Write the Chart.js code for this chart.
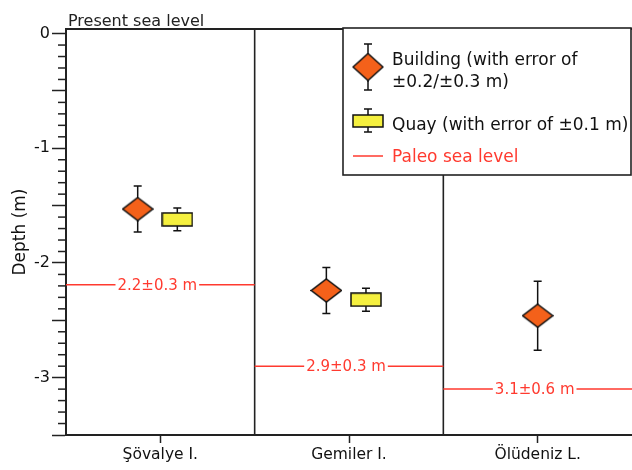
<!DOCTYPE html>
<html>
<head>
<meta charset="utf-8">
<script src="https://cdn.jsdelivr.net/npm/chart.js@4"></script>
<style>
  html, body { margin: 0; padding: 0; background: #fff; }
  #wrap { width: 632px; height: 470px; }
</style>
</head>
<body>
<div id="wrap"><canvas id="chart" width="632" height="470"></canvas></div>
<script>
// sites along the x axis
const categories = ["Şövalye I.", "Gemiler I.", "Ölüdeniz L."];
const catPos = [1, 2, 3];

// building remains (orange diamonds)
const buildingX = [0.88, 1.88, 3.0];
const buildingDepth = [-1.53, -2.24, -2.46];
const buildingErr = [0.2, 0.2, 0.3];

// quay remains (yellow boxes)
const quayX = [1.09, 2.09];
const quayDepth = [-1.62, -2.32];
const quayErr = [0.1, 0.1];

// paleo sea level per site
const paleoDepth = [-2.19, -2.9, -3.1];
const paleoLabels = ["2.2±0.3 m", "2.9±0.3 m", "3.1±0.6 m"];

// y axis major ticks
const yTicks = [0, -0.5, -1, -1.5, -2, -2.5, -3, -3.5];

const ORANGE = '#f4611a';
const YELLOW = '#f5f03f';
const RED = '#ff3a2f';
const INK = '#222';
const FONT = '"DejaVu Sans", Verdana, sans-serif';

// marker images
function diamondImg(w, h) {
  const c = document.createElement('canvas');
  c.width = w + 2; c.height = h + 2;
  const g = c.getContext('2d');
  g.beginPath();
  g.moveTo(c.width / 2, 1);
  g.lineTo(c.width - 1, c.height / 2);
  g.lineTo(c.width / 2, c.height - 1);
  g.lineTo(1, c.height / 2);
  g.closePath();
  g.fillStyle = ORANGE; g.fill();
  g.strokeStyle = '#111'; g.lineWidth = 1.5; g.stroke();
  return c;
}
function boxImg(w, h) {
  const c = document.createElement('canvas');
  c.width = w + 2; c.height = h + 2;
  const g = c.getContext('2d');
  g.fillStyle = YELLOW; g.fillRect(1, 1, w, h);
  g.strokeStyle = '#111'; g.lineWidth = 1.5; g.strokeRect(1, 1, w, h);
  return c;
}

const paleoData = [];
paleoDepth.forEach((d, i) => {
  paleoData.push({ x: catPos[i] - 0.5, y: d }, { x: catPos[i] + 0.5, y: d }, { x: catPos[i] + 0.5, y: null });
});

function errBar(ctx, px, y1, y2, cap) {
  ctx.beginPath();
  ctx.moveTo(px, y1); ctx.lineTo(px, y2);
  ctx.moveTo(px - cap, y1); ctx.lineTo(px + cap, y1);
  ctx.moveTo(px - cap, y2); ctx.lineTo(px + cap, y2);
  ctx.stroke();
}

const decor = {
  id: 'decor',
  beforeDatasetsDraw(chart) {
    const { ctx, chartArea: a, scales: { x, y } } = chart;
    ctx.save();
    ctx.strokeStyle = INK;
    // site separators
    ctx.lineWidth = 1.6;
    catPos.slice(1).forEach(v => {
      const px = x.getPixelForValue(v - 0.5);
      ctx.beginPath(); ctx.moveTo(px, a.top); ctx.lineTo(px, a.bottom); ctx.stroke();
    });
    // top border
    ctx.lineWidth = 2;
    ctx.beginPath(); ctx.moveTo(a.left, a.top); ctx.lineTo(a.right, a.top); ctx.stroke();
    // minor ticks every 0.1 m
    ctx.lineWidth = 1.5;
    for (let i = 0; i <= 35; i++) {
      if (i % 5 === 0) continue;
      const py = y.getPixelForValue(-i / 10);
      ctx.beginPath(); ctx.moveTo(a.left - 8, py); ctx.lineTo(a.left, py); ctx.stroke();
    }
    // error bars
    ctx.strokeStyle = '#111';
    ctx.lineWidth = 1.5;
    buildingX.forEach((bx, i) => {
      errBar(ctx, x.getPixelForValue(bx), y.getPixelForValue(buildingDepth[i] + buildingErr[i]),
        y.getPixelForValue(buildingDepth[i] - buildingErr[i]), 4);
    });
    quayX.forEach((qx, i) => {
      errBar(ctx, x.getPixelForValue(qx), y.getPixelForValue(quayDepth[i] + quayErr[i]),
        y.getPixelForValue(quayDepth[i] - quayErr[i]), 4);
    });
    ctx.restore();
  },
  afterDatasetsDraw(chart) {
    const { ctx, scales: { x, y } } = chart;
    ctx.save();
    ctx.font = '15px ' + FONT;
    ctx.textAlign = 'center';
    ctx.textBaseline = 'middle';
    paleoLabels.forEach((t, i) => {
      const cx = x.getPixelForValue(catPos[i]) - 3;
      const cy = y.getPixelForValue(paleoDepth[i]);
      const w = ctx.measureText(t).width;
      ctx.fillStyle = '#fff';
      ctx.fillRect(cx - w / 2 - 2, cy - 8, w + 4, 16);
      ctx.fillStyle = RED;
      ctx.fillText(t, cx, cy + 1);
    });
    ctx.restore();
  },
  afterDraw(chart) {
    const { ctx, chartArea: a } = chart;
    ctx.save();
    // title above plot
    ctx.fillStyle = INK;
    ctx.font = '16px ' + FONT;
    ctx.textBaseline = 'alphabetic';
    ctx.fillText('Present sea level', a.left + 2, a.top - 3);

    // legend box
    const bx = 343, by = a.top - 1, br = chart.width - 1, bb = 175;
    ctx.fillStyle = '#fff';
    ctx.fillRect(bx, by, br - bx, bb - by);
    ctx.strokeStyle = INK; ctx.lineWidth = 1.6;
    ctx.strokeRect(bx, by, br - bx, bb - by);

    ctx.strokeStyle = '#111'; ctx.lineWidth = 1.5;
    errBar(ctx, bx + 25, 44, 90, 4);
    const d = diamondImg(30, 27);
    ctx.drawImage(d, bx + 25 - d.width / 2, 67 - d.height / 2);
    errBar(ctx, bx + 25, 109, 132, 4);
    const q = boxImg(30, 12);
    ctx.drawImage(q, bx + 25 - q.width / 2, 121 - q.height / 2);
    ctx.strokeStyle = RED; ctx.lineWidth = 1.5;
    ctx.beginPath(); ctx.moveTo(bx + 10, 156); ctx.lineTo(bx + 40, 156); ctx.stroke();

    ctx.font = '17px ' + FONT;
    ctx.fillStyle = '#111';
    ctx.fillText('Building (with error of', bx + 49, 65);
    ctx.fillText('±0.2/±0.3 m)', bx + 49, 87);
    ctx.fillText('Quay (with error of ±0.1 m)', bx + 49, 130);
    ctx.fillStyle = RED;
    ctx.fillText('Paleo sea level', bx + 49, 162);
    ctx.restore();
  }
};

new Chart(document.getElementById('chart'), {
  type: 'scatter',
  data: {
    datasets: [
      {
        type: 'line',
        label: 'Paleo sea level',
        data: paleoData,
        borderColor: RED,
        borderWidth: 1.5,
        pointRadius: 0,
        spanGaps: false,
        order: 3
      },
      {
        label: 'Building',
        data: buildingX.map((v, i) => ({ x: v, y: buildingDepth[i] })),
        pointStyle: diamondImg(30, 23),
        order: 1
      },
      {
        label: 'Quay',
        data: quayX.map((v, i) => ({ x: v, y: quayDepth[i] })),
        pointStyle: boxImg(30, 13),
        order: 2
      }
    ]
  },
  options: {
    responsive: false,
    animation: false,
    layout: { autoPadding: false, padding: { top: 29, left: 0, right: 0, bottom: 0 } },
    plugins: { legend: { display: false }, tooltip: { enabled: false } },
    scales: {
      x: {
        type: 'linear',
        min: 0.5,
        max: 3.5,
        afterBuildTicks: s => { s.ticks = catPos.map(v => ({ value: v })); },
        afterFit: s => { s.height = 35; s.paddingLeft = 0; s.paddingRight = 0; },
        grid: { drawOnChartArea: false, tickLength: 8, tickColor: INK, tickWidth: 1.5 },
        border: { display: true, color: INK, width: 2 },
        ticks: {
          autoSkip: false,
          maxRotation: 0,
          padding: 3,
          color: '#111',
          font: { family: FONT, size: 15.5 },
          callback: v => categories[catPos.indexOf(v)] || ''
        }
      },
      y: {
        min: -3.5,
        max: 0.04,
        afterBuildTicks: s => { s.ticks = yTicks.map(v => ({ value: v })); },
        afterFit: s => { s.width = 66; s.paddingTop = 0; s.paddingBottom = 0; },
        grid: { drawOnChartArea: false, tickLength: 14, tickColor: INK, tickWidth: 1.5 },
        border: { display: true, color: INK, width: 2 },
        title: {
          display: true,
          text: 'Depth (m)',
          color: '#111',
          font: { family: FONT, size: 17 },
          padding: { top: 10, bottom: 0 }
        },
        ticks: {
          padding: 2,
          color: '#111',
          font: { family: FONT, size: 16 },
          callback: v => Number.isInteger(v) ? String(v) : ''
        }
      }
    }
  },
  plugins: [decor]
});
</script>
</body>
</html>
